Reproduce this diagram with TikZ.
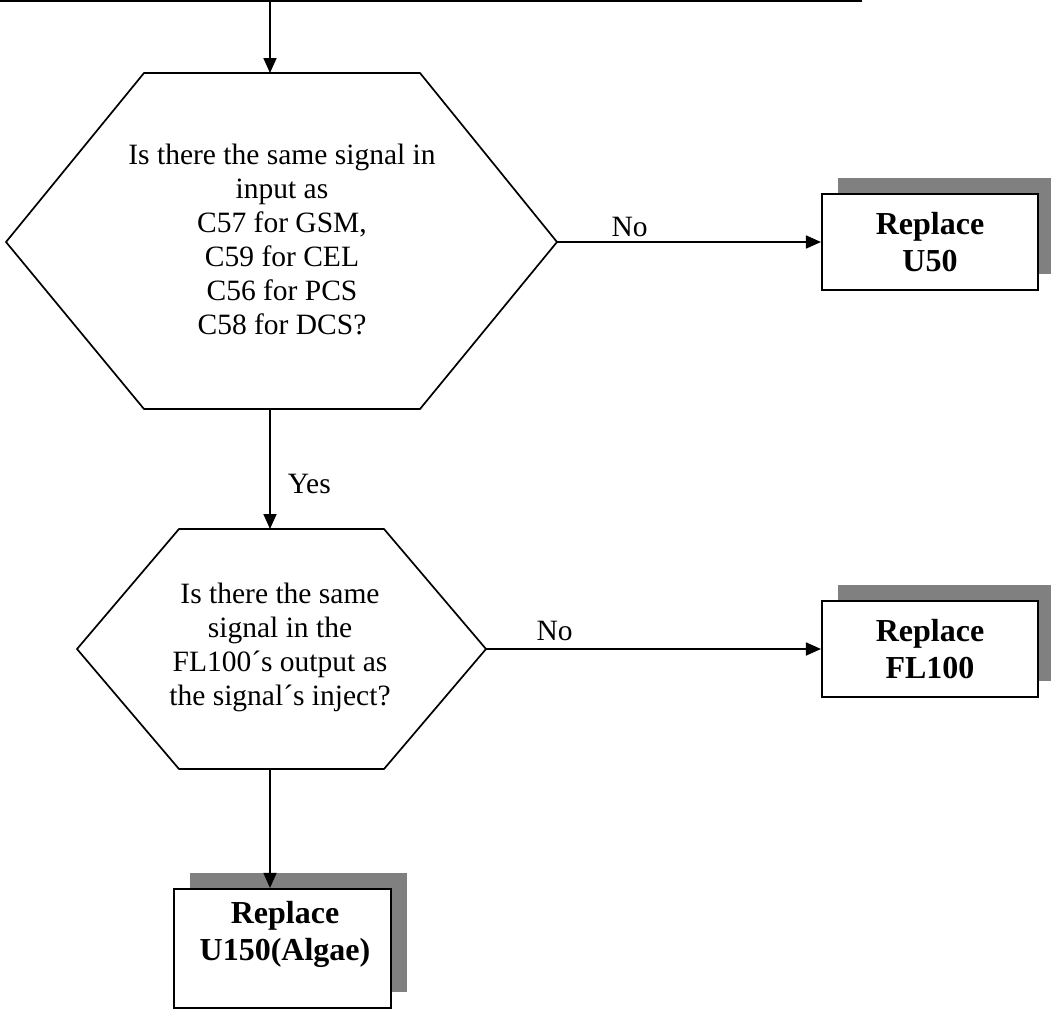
\documentclass[tikz,border=0pt]{standalone}
\usepackage{fontspec}
\setmainfont{Liberation Serif}
\usetikzlibrary{arrows.meta,shadows}
\definecolor{shadowgray}{HTML}{808080}
\tikzset{
 conn/.style={line width=1.7pt, -{Triangle[length=15pt,width=13pt]}},
 hexline/.style={line width=1.7pt, line join=miter},
 qtext/.style={align=center, font=\fontsize{29.5}{34}\selectfont, inner sep=0pt},
 boxnode/.style={draw, line width=2.1pt, fill=white, minimum width=216pt, minimum height=96pt,
   align=center, font=\fontsize{32}{37}\selectfont\bfseries, inner sep=0pt,
   drop shadow={shadow xshift=16pt, shadow yshift=16pt, fill=shadowgray, opacity=1, draw=none}},
 boxtext/.style={align=center, font=\fontsize{32}{37}\selectfont\bfseries, inner sep=0pt},
 lbl/.style={font=\fontsize{29.5}{34}\selectfont, inner sep=0pt, anchor=base},
}
\begin{document}
\begin{tikzpicture}[x=1pt,y=-1pt]
\useasboundingbox (0,0) rectangle (1051,1010);
\clip (0,0) rectangle (1051,1010);
% top box (partly visible)
\node[draw, line width=2.6pt, minimum width=900pt, minimum height=60pt, anchor=south east, inner sep=0pt] (top) at (862,2) {};
% decision 1
\draw[hexline] (6,242) -- (144,73) -- (420,73) -- (557,242) -- (420,409) -- (144,409) -- cycle;
\coordinate (h1top) at (270,73);
\coordinate (h1right) at (557,242);
\coordinate (h1bot) at (270,409);
\node[qtext] (q1) at (282,239) {Is there the same signal in\\input as\\C57 for GSM,\\C59 for CEL\\C56 for PCS\\C58 for DCS?};
% decision 2
\draw[hexline] (77,649) -- (179,529) -- (384,529) -- (486,649) -- (384,769) -- (179,769) -- cycle;
\coordinate (h2top) at (270,529);
\coordinate (h2right) at (486,649);
\coordinate (h2bot) at (270,769);
\node[qtext] (q2) at (280,647) {Is there the same\\signal in the\\FL100´s output as\\the signal´s inject?};
% result boxes
\node[boxnode] (u50) at (930,242) {Replace\\U50};
\node[boxnode] (fl100) at (930,649) {Replace\\FL100};
\node[boxnode, minimum width=217pt, minimum height=119pt] (u150) at (282.5,948.5) {};
\node[boxtext] (u150t) at (285,934) {Replace\\U150(Algae)};
% connectors
\draw[conn] (top.south -| h1top) -- (h1top);
\draw[conn] (h1right) -- node[lbl, pos=0.275, yshift=6pt] {No} (u50.west);
\draw[conn] (h1bot) -- node[lbl, pos=0.7, anchor=base west, xshift=17pt] {Yes} (h2top);
\draw[conn] (h2right) -- node[lbl, pos=0.205, yshift=9pt] {No} (fl100.west);
\draw[conn] (h2bot) -- (h2bot |- u150.north);
\end{tikzpicture}
\end{document}
